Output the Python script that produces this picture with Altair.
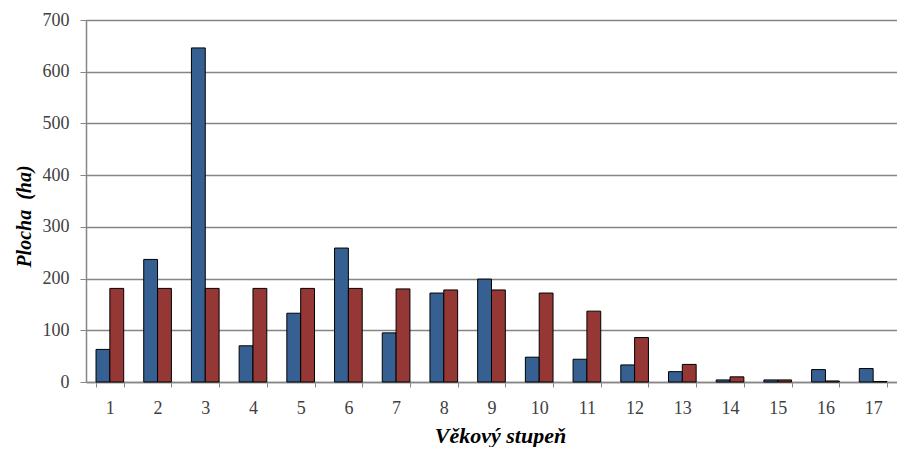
import altair as alt
import pandas as pd

categories = [str(i) for i in range(1, 18)]
blue_values = [63, 237, 646, 70, 133, 259, 95, 172, 199, 48, 44, 33, 20, 4, 4, 24, 26]
red_values = [181, 181, 181, 181, 181, 181, 180, 178, 178, 172, 137, 86, 34, 10, 4, 2, 1]
series_names = ["Řada 1", "Řada 2"]
series_colors = ["#376092", "#953735"]
y_ticks = [0, 100, 200, 300, 400, 500, 600, 700]

rows = []
for c, b, r in zip(categories, blue_values, red_values):
    rows.append({"stupen": c, "serie": series_names[0], "plocha": b})
    rows.append({"stupen": c, "serie": series_names[1], "plocha": r})
df = pd.DataFrame(rows)

font = "Liberation Serif"

chart = alt.Chart(df).mark_bar(stroke="black", strokeWidth=1).encode(
    x=alt.X(
        "stupen:N",
        sort=categories,
        title="Věkový stupeň",
        scale=alt.Scale(paddingInner=0.42, paddingOuter=0.21),
        axis=alt.Axis(
            labelAngle=0,
            tickBand="extent",
            grid=False,
            tickSize=5,
            tickColor="#868686",
            domainColor="#868686",
            domainWidth=1.5,
            labelFont=font,
            labelFontSize=18,
            labelColor="#404040",
            labelPadding=12,
            titleFont=font,
            titleFontSize=22,
            titleFontWeight="bold",
            titleFontStyle="italic",
            titleColor="black",
            titlePadding=8,
            titleX=414,
        ),
    ),
    xOffset=alt.XOffset("serie:N", sort=series_names),
    y=alt.Y(
        "plocha:Q",
        title="Plocha\u00a0 (ha)",
        scale=alt.Scale(domain=[0, 700]),
        axis=alt.Axis(
            values=y_ticks,
            grid=True,
            gridColor="#858585",
            gridWidth=1.4,
            tickSize=6,
            tickColor="#868686",
            domainColor="#868686",
            domainWidth=1.5,
            labelFont=font,
            labelFontSize=18,
            labelColor="#404040",
            labelPadding=11,
            titleFont=font,
            titleFontSize=20,
            titleFontWeight="bold",
            titleFontStyle="italic",
            titleColor="black",
            titlePadding=8,
            titleY=196,
        ),
    ),
    color=alt.Color(
        "serie:N",
        scale=alt.Scale(domain=series_names, range=series_colors),
        legend=None,
    ),
).properties(
    width=811,
    height=362,
    autosize=alt.AutoSizeParams(type="none"),
    padding={"left": 78, "top": 12, "right": 0, "bottom": 65},
).configure_view(
    fill="#D9D9D9",
    stroke="transparent",
).configure(background="white")

chart.save("out.html", embed_options={"renderer": "svg", "actions": False})
